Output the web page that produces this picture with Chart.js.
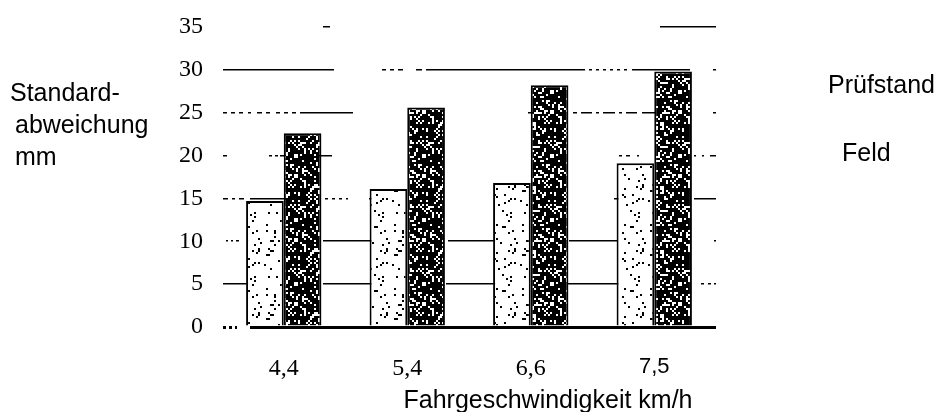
<!DOCTYPE html>
<html>
<head>
<meta charset="utf-8">
<title>Standardabweichung</title>
<script src="https://cdn.jsdelivr.net/npm/chart.js@4.4.1/dist/chart.umd.min.js"></script>
<style>
  html, body { margin: 0; padding: 0; background: #fff; }
  #box { width: 948px; height: 412px; }
</style>
</head>
<body>
<div id="box"><canvas id="myChart" width="948" height="412"></canvas></div>
<script>
// Daten
const geschwindigkeiten = ['4,4', '5,4', '6,6', '7,5'];
const pruefstand = [14.7, 16.1, 16.8, 19.1];
const feld = [22.6, 25.6, 28.2, 29.8];
const yTicks = [0, 5, 10, 15, 20, 25, 30, 35];

const serif = 'Liberation Serif, Times New Roman, serif';
const sans = 'Liberation Sans, Arial, sans-serif';

// gescanntes Raster: Punkte auf Weiss / Weiss auf Schwarz
function makePattern(bg, fg, density, seed) {
  const c = document.createElement('canvas');
  c.width = 64; c.height = 64;
  const g = c.getContext('2d');
  g.fillStyle = bg;
  g.fillRect(0, 0, 64, 64);
  g.fillStyle = fg;
  let s = seed;
  for (let y = 0; y < 64; y += 2) {
    for (let x = 0; x < 64; x += 2) {
      s = (s * 1103515245 + 12345) & 0x7fffffff;
      if ((s >> 8) % 1000 < density * 1000) g.fillRect(x, y, 2, 2);
    }
  }
  return g.createPattern(c, 'repeat');
}

// sichtbare Stuecke der unterbrochenen Gitterlinien (Abstand vom linken Rand)
const gridPieces = {
  0: [[1, 4], [7, 10], [13, 15], [28, 494]],
  5: [[1, 28], [101, 153], [224, 276], [345, 397], [479, 482], [486, 489], [492, 494]],
  10: [[4, 6], [9, 11], [14, 17], [26, 29], [101, 151], [226, 276], [347, 395], [492, 494]],
  15: [[1, 6], [10, 13], [17, 22], [28, 65], [103, 106], [110, 113], [117, 120], [124, 126], [147, 153], [392, 401], [472, 494]],
  20: [[1, 5], [47, 50], [53, 56], [58, 110], [397, 400], [404, 408], [415, 417], [472, 474], [480, 482], [488, 494]],
  25: [[1, 5], [9, 13], [17, 21], [26, 29], [35, 40], [44, 48], [54, 58], [62, 66], [70, 74], [78, 131], [306, 315],
       [351, 355], [359, 370], [374, 377], [381, 393], [397, 400], [404, 415], [420, 433], [491, 494]],
  30: [[1, 112], [160, 164], [168, 172], [176, 181], [194, 200], [204, 363], [367, 370], [374, 377], [381, 384],
       [388, 391], [395, 398], [402, 405], [410, 468], [491, 494]],
  35: [[101, 108], [438, 494]]
};

function toDash(pieces) {
  const d = [0];
  let pos = 0;
  pieces.forEach(([a, b]) => { d.push(a - pos, b - a); pos = b; });
  d.push(2000);
  return d;
}

const ctx = document.getElementById('myChart');

// Texte ausserhalb der Achsen
const textPlugin = {
  id: 'texte',
  afterDraw(chart) {
    const c = chart.ctx;
    c.save();
    c.fillStyle = '#000';
    c.font = '25px ' + sans;
    c.textAlign = 'left';
    c.textBaseline = 'alphabetic';
    c.fillText('Standard-', 10, 101);
    c.fillText('abweichung', 15, 133);
    c.fillText('mm', 15, 165);
    c.fillText(chart.data.datasets[0].label, 828, 93);
    c.fillText(chart.data.datasets[1].label, 842, 161);
    c.textAlign = 'center';
    c.fillText('Fahrgeschwindigkeit km/h', 548, 408);
    c.restore();
  }
};

const myChart = new Chart(ctx, {
  type: 'bar',
  data: {
    labels: geschwindigkeiten,
    datasets: [
      {
        label: 'Prüfstand',
        data: pruefstand,
        backgroundColor: makePattern('#fff', '#000', 0.07, 7),
        borderColor: '#000',
        borderWidth: 2
      },
      {
        label: 'Feld',
        data: feld,
        backgroundColor: makePattern('#000', '#fff', 0.22, 11),
        borderColor: '#000',
        borderWidth: 2
      }
    ]
  },
  options: {
    responsive: false,
    animation: false,
    devicePixelRatio: 1,
    layout: { padding: { top: 27, right: 232, left: 0, bottom: 0 } },
    categoryPercentage: 0.61,
    barPercentage: 1.0,
    plugins: {
      legend: { display: false },
      tooltip: { enabled: false }
    },
    scales: {
      x: {
        grid: { display: false, drawTicks: false },
        border: { display: false },
        ticks: {
          color: '#000',
          padding: 27,
          font: (c) => (c.tick && c.tick.label === '7,5')
            ? { family: sans, size: 22 }
            : { family: serif, size: 24 }
        },
        afterFit: (s) => { s.height = 85; }
      },
      y: {
        min: 0,
        max: 35,
        afterBuildTicks: (s) => { s.ticks = yTicks.map(v => ({ value: v })); },
        grid: {
          color: '#000',
          drawTicks: false,
          lineWidth: (c) => (c.tick && c.tick.value === 0) ? 3 : 1.6
        },
        border: {
          display: false,
          dash: (c) => (c.tick && gridPieces[c.tick.value]) ? toDash(gridPieces[c.tick.value]) : []
        },
        ticks: {
          color: '#000',
          padding: 19,
          font: { family: serif, size: 24 }
        },
        afterFit: (s) => {
          s.width = 222;
          s.paddingTop = 0;
          s.paddingBottom = 0;
        }
      }
    }
  },
  plugins: [textPlugin]
});
</script>
</body>
</html>
